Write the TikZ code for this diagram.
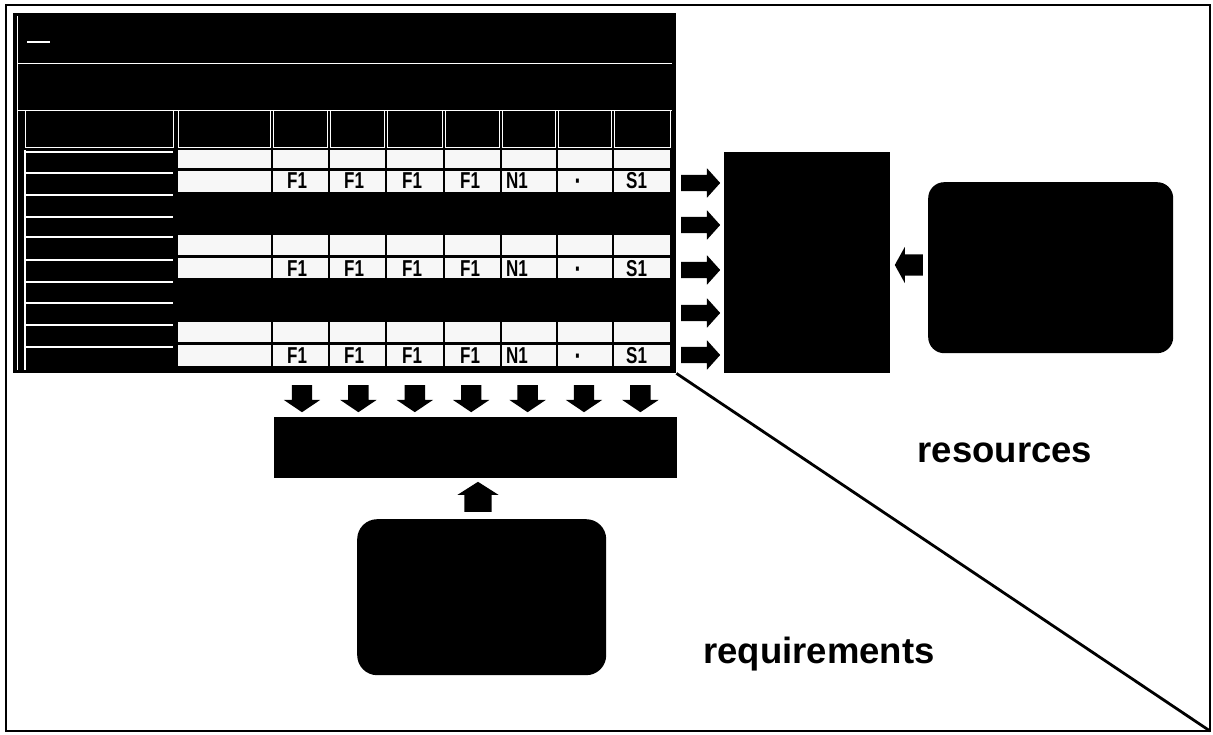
\documentclass[tikz,border=0pt]{standalone}
\usepackage{fontspec}
\setmainfont{Liberation Sans}
\newfontfamily\cellfont[FakeStretch=0.74, UprightFont={* Bold}]{Liberation Sans}
\usetikzlibrary{positioning, shapes.arrows, calc}

\begin{document}
\begin{tikzpicture}[
    x=1pt, y=-1pt,
    panel/.style={
      fill=black, draw=none, inner sep=0pt, anchor=north west
    },
    roundpanel/.style={panel, rounded corners=#1},
    gridcell/.style={fill=gray!6},
    headcell/.style={draw=white, line width=0.7pt},
    rowline/.style={white, line width=1.4pt},
    blockarrow/.style={
      single arrow, fill=black, inner xsep=0pt, minimum width=0pt,
      single arrow head indent=0pt, anchor=tail
    },
    rarrow/.style={blockarrow, inner ysep=8pt, single arrow head extend=6.5pt,
      single arrow tip angle=96, minimum height=39pt},
    darrow/.style={blockarrow, rotate=-90, inner ysep=10pt,
      single arrow head extend=8pt, single arrow tip angle=112, minimum height=27pt},
    cellnum/.style={font=\cellfont\fontsize{23}{23}\selectfont,
      inner sep=0pt, anchor=base west},
    zonelabel/.style={font=\bfseries\fontsize{36.5}{40}\selectfont,
      inner sep=0pt, anchor=base},
]
    \useasboundingbox (0,0) rectangle (1213,735);
    \draw[line width=1.6pt] (6,5) rectangle (1210,731);

    % schedule table
    \node[panel, minimum width=663pt, minimum height=360pt] (grid) at (13,13) {};
    \draw[rowline, line width=0.8pt] (17,16) -- (17,370);
    \draw[rowline, line width=0.8pt] (17,63) -- (672,63);
    \draw[rowline, line width=0.8pt] (17,110) -- (672,110);
    \draw[rowline] (27,42) -- (50,42);
    \foreach \xa/\xb in {25/173, 178/270, 273/327, 330/384, 387/442,
                         445/499, 502/555, 558/611, 614/670}
      \draw[headcell] (\xa,110) rectangle (\xb,147);
    \draw[rowline] (25,150) -- (25,370);
    \foreach \y in {152,173,195,217,237,260,282,303,325,347}
      \draw[rowline] (25,\y) -- (173,\y);
    \foreach \ya/\yb in {150/168, 171/192, 235/255, 258/278, 322/342, 345/366}
      \foreach \xa/\xb in {178/271, 273/328, 330/385, 387/443, 445/500,
                           502/556, 558/612, 614/670}
        \fill[gridcell] (\xa,\ya) rectangle (\xb,\yb);

    % Entries
    \foreach \yb [count=\i] in {189, 277, 363} {
      \node[cellnum] (fa\i) at (287,\yb) {F1};
      \node[cellnum] (fb\i) at (344,\yb) {F1};
      \node[cellnum] (fc\i) at (402,\yb) {F1};
      \node[cellnum] (fd\i) at (460,\yb) {F1};
      \node[cellnum] (n\i) at (506,\yb) {N1};
      \node[cellnum, anchor=base, font=\cellfont\fontsize{28}{28}\selectfont] (dot\i) at (578,\yb+2) {·};
      \node[cellnum] (s\i) at (626,\yb) {S1};
    }

    % Boxes
    \node[panel, minimum width=166pt, minimum height=221pt] (match) at (724,152) {};
    \node[roundpanel=16pt, minimum width=245pt, minimum height=171pt] (supply) at (928,182) {};
    \node[panel, minimum width=403pt, minimum height=61pt] (summary) at (274,417) {};
    \node[roundpanel=20pt, minimum width=249pt, minimum height=156pt] (demand) at (357,519) {};

    % Arrows
    \foreach \y [count=\i] in {183, 225, 270, 313, 355}
      \node[rarrow] (ra\i) at (681,\y) {};
    \foreach \i in {0,...,6}
      \node[darrow] (da\i) at ({302+56.4*\i},385) {};
    \node[blockarrow, rotate=90, inner ysep=13.5pt, single arrow head extend=7pt,
          single arrow tip angle=115, minimum height=30pt] (up) at (478,512) {};
    \node[blockarrow, rotate=180, inner ysep=10.5pt, single arrow head extend=7.5pt,
          single arrow tip angle=122, minimum height=28pt] (left) at (923,265) {};

    % Split
    \coordinate (corner) at (1210,731);
    \draw[line width=2.8pt] (grid.south east) -- (corner);

    % Labels
    \node[zonelabel] (res) at (1005,462) {resources};
    \node[zonelabel] (req) at (819,663) {requirements};
\end{tikzpicture}
\end{document}
